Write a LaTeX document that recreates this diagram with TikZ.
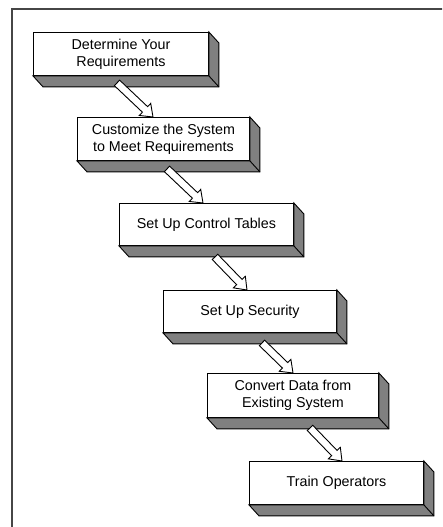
\documentclass[tikz,border=0pt]{standalone}
\usepackage{fontspec}
\setmainfont{Liberation Sans}
\usetikzlibrary{calc}
\definecolor{facegray}{RGB}{128,128,128}
\definecolor{framegray}{RGB}{70,70,70}
\tikzset{
  stepbox/.style={draw=black, fill=white, line width=0.9pt, minimum height=43pt,
    inner sep=0pt, align=center, anchor=north west,
    font=\fontsize{14.3}{17}\selectfont},
  face/.style={draw=black, fill=facegray, line width=0.9pt, line join=miter},
  barrow/.style={draw=black, fill=white, line width=0.9pt, line join=miter},
  frameline/.style={draw=framegray, line width=1.6pt}
}
\newcommand\boxfaces[1]{%
  \draw[face] (#1.south west) -- ($(#1.south west)+(10,11)$) -- ($(#1.south east)+(10,11)$)
    -- ($(#1.north east)+(10,11)$) -- (#1.north east) -- (#1.south east) -- cycle;
  \draw[face] (#1.south east) -- ($(#1.south east)+(10,11)$);
}
\newcommand\blockarrow[2]{%
  \draw[barrow] let \p1=(#1), \p2=(#2),
      \n1={atan2(\y2-\y1,\x2-\x1)}, \n2={veclen(\x2-\x1,\y2-\y1)} in
    ($(\p1)+(\n1+90:3.8pt)$) -- ++(\n1:{\n2-11pt}) -- ++(\n1+90:4.5pt) -- (\p2)
    -- ($(\p2)+(\n1+180:11pt)+(\n1-90:8.3pt)$) -- ++(\n1+90:4.5pt)
    -- ($(\p1)+(\n1-90:3.8pt)$) -- cycle;
}
\begin{document}
\begin{tikzpicture}[x=1pt, y=-1pt]
  \useasboundingbox (0,0) rectangle (442,527);
  \clip (0,0) rectangle (442,527);
  \fill[white] (0,0) rectangle (442,527);
  \draw[frameline] (12,560) -- (12,9) -- (470,9);

  \node[stepbox, minimum width=175pt] (b1) at (33,32) {Determine Your\\Requirements};
  \boxfaces{b1}
  \node[stepbox, minimum width=172pt] (b2) at (77,117) {Customize the System\\to Meet Requirements};
  \boxfaces{b2}
  \node[stepbox, minimum width=174pt, minimum height=42pt] (b3) at (119,203) {Set Up Control Tables};
  \boxfaces{b3}
  \node[stepbox, minimum width=173pt, minimum height=42pt] (b4) at (163,290) {Set Up Security};
  \boxfaces{b4}
  \node[stepbox, minimum width=171pt, minimum height=44pt] (b5) at (207,373) {Convert Data from\\Existing System};
  \boxfaces{b5}
  \node[stepbox, minimum width=174pt] (b6) at (249,461) {Train Operators};
  \boxfaces{b6}

  \coordinate (t1) at ($(b1.south west)+(84,7)$);
  \coordinate (h1) at ($(b2.north west)+(76,0)$);
  \coordinate (t2) at ($(b2.south west)+(90,8)$);
  \coordinate (h2) at ($(b3.north west)+(84,0)$);
  \coordinate (t3) at ($(b3.south west)+(96,11)$);
  \coordinate (h3) at ($(b4.north west)+(84,0)$);
  \coordinate (t4) at ($(b4.south west)+(99,10)$);
  \coordinate (h4) at ($(b5.north west)+(86,0)$);
  \coordinate (t5) at ($(b5.south west)+(103,10)$);
  \coordinate (h5) at ($(b6.north west)+(93,0)$);
  \blockarrow{t1}{h1}
  \blockarrow{t2}{h2}
  \blockarrow{t3}{h3}
  \blockarrow{t4}{h4}
  \blockarrow{t5}{h5}
\end{tikzpicture}
\end{document}
